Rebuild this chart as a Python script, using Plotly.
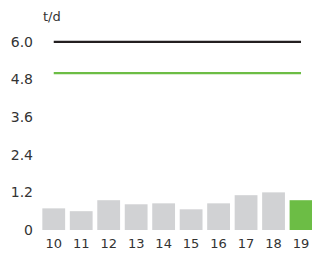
import plotly.graph_objects as go

categories = ["10", "11", "12", "13", "14", "15", "16", "17", "18", "19"]
values = [0.69, 0.60, 0.95, 0.82, 0.85, 0.66, 0.85, 1.11, 1.20, 0.95]
upper_limit = [6.0] * 10
target = [5.0] * 10
y_ticks = [0, 1.2, 2.4, 3.6, 4.8, 6.0]
y_tick_labels = ["0", "1.2", "2.4", "3.6", "4.8", "6.0"]
unit_label = "t/d"

bar_colors = ["#d1d2d4"] * (len(values) - 1) + ["#6cbd45"]

fig = go.Figure()
fig.add_trace(go.Bar(x=categories, y=values, marker=dict(color=bar_colors, line=dict(width=0)),
                     hoverinfo="skip"))
fig.add_trace(go.Scatter(x=categories, y=upper_limit, mode="lines",
                         line=dict(color="#231f20", width=2.2)))
fig.add_trace(go.Scatter(x=categories, y=target, mode="lines",
                         line=dict(color="#6cbd45", width=2.2)))

fig.update_layout(
    width=312, height=257,
    margin=dict(l=40, r=0, t=23, b=27, autoexpand=False),
    paper_bgcolor="white", plot_bgcolor="white",
    showlegend=False, bargap=0.17,
    font=dict(family="DejaVu Sans, sans-serif", size=13, color="#333333"),
    xaxis=dict(range=[-0.5, 9.4], showgrid=False, zeroline=False, showline=False,
               ticks="", automargin=False, ticklabelstandoff=4,
               tickfont=dict(size=13, color="#333333")),
    yaxis=dict(range=[0, 6.6], tickvals=y_ticks, ticktext=y_tick_labels,
               showgrid=False, zeroline=False, showline=False, ticks="",
               automargin=False, ticklabelstandoff=6,
               tickfont=dict(size=14, color="#333333")),
    annotations=[dict(text=unit_label, xref="paper", yref="paper", x=0.0, y=1.0,
                      xanchor="left", yanchor="bottom", yshift=-3, xshift=1, showarrow=False,
                      font=dict(size=13, color="#333333"))],
)

fig.write_html(
    "out.html",
    config={"displayModeBar": False},
    post_script="document.body.style.margin='0';document.body.style.overflow='hidden';",
)
